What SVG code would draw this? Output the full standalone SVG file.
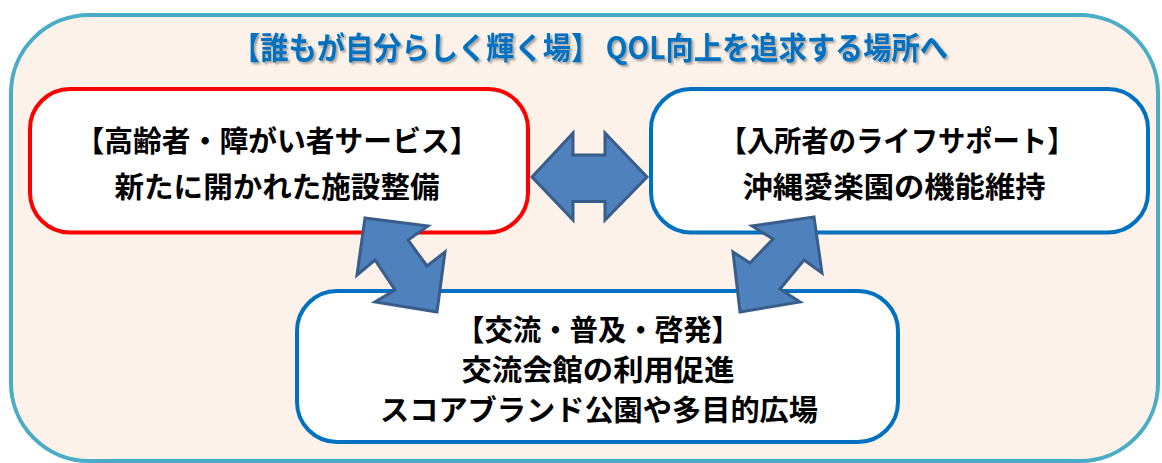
<svg xmlns="http://www.w3.org/2000/svg" width="1162" height="463" viewBox="0 0 1162 463">
<defs>
<style>
.outer{fill:#FCF2E9;stroke:#4BACC6;stroke-width:4}
.box{fill:#FFFFFF;stroke-width:4}
.red{stroke:#FF0000}
.blue{stroke:#0070C0}
.arrow{fill:#4F81BD;stroke:#385D8A;stroke-width:3;stroke-linejoin:miter}
.t{font-family:"Noto Sans CJK JP","Noto Sans CJK SC",sans-serif;font-weight:700;font-size:29px;fill:#000000;text-anchor:middle}
.title{font-family:"Noto Sans CJK JP","Noto Sans CJK SC",sans-serif;font-weight:700;font-size:31px;fill:#0070C0;text-anchor:middle}
</style>
<filter id="sh" x="-5%" y="-30%" width="110%" height="160%">
<feDropShadow dx="2" dy="2" stdDeviation="1.2" flood-color="#000000" flood-opacity="0.35"/>
</filter>
</defs>
<rect id="frame" class="outer" x="11" y="15" width="1147" height="446" rx="78" ry="78"/>
<text id="title" class="title" x="590" y="59" textLength="716" lengthAdjust="spacingAndGlyphs" filter="url(#sh)">【誰もが自分らしく輝く場】 QOL向上を追求する場所へ</text>
<g id="node-left">
<rect class="box red" x="30" y="89" width="498" height="143.5" rx="40" ry="40"/>
<text class="t" x="277" y="152" textLength="403" lengthAdjust="spacingAndGlyphs">【高齢者・障がい者サービス】</text>
<text class="t" x="277" y="198" textLength="325" lengthAdjust="spacingAndGlyphs">新たに開かれた施設整備</text>
</g>
<g id="node-right">
<rect class="box blue" x="651" y="89" width="497" height="143.5" rx="40" ry="40"/>
<text class="t" x="897" y="152" textLength="355" lengthAdjust="spacingAndGlyphs">【入所者のライフサポート】</text>
<text class="t" x="894" y="198" textLength="303" lengthAdjust="spacingAndGlyphs">沖縄愛楽園の機能維持</text>
</g>
<g id="node-bottom">
<rect class="box blue" x="297" y="291" width="601" height="151" rx="40" ry="40"/>
<text class="t" x="598" y="341" textLength="284" lengthAdjust="spacingAndGlyphs">【交流・普及・啓発】</text>
<text class="t" x="598" y="381" textLength="273" lengthAdjust="spacingAndGlyphs">交流会館の利用促進</text>
<text class="t" x="599" y="421" textLength="438" lengthAdjust="spacingAndGlyphs">スコアブランド公園や多目的広場</text>
</g>
<g id="connectors">
<polygon class="arrow" points="532,177 573,133 573,155 605,155 605,133 647,177 605,220 605,201.5 573,201.5 573,220"/>
<polygon class="arrow" points="365,218 428,226 408,240 427,266 445,252 437,312 375,302 395,290 375,260 357,275"/>
<polygon class="arrow" points="814,217 752,226 773,239 750,263 733,252 740,312 800,302 780,289 804,260 822,273"/>
</g>
</svg>
